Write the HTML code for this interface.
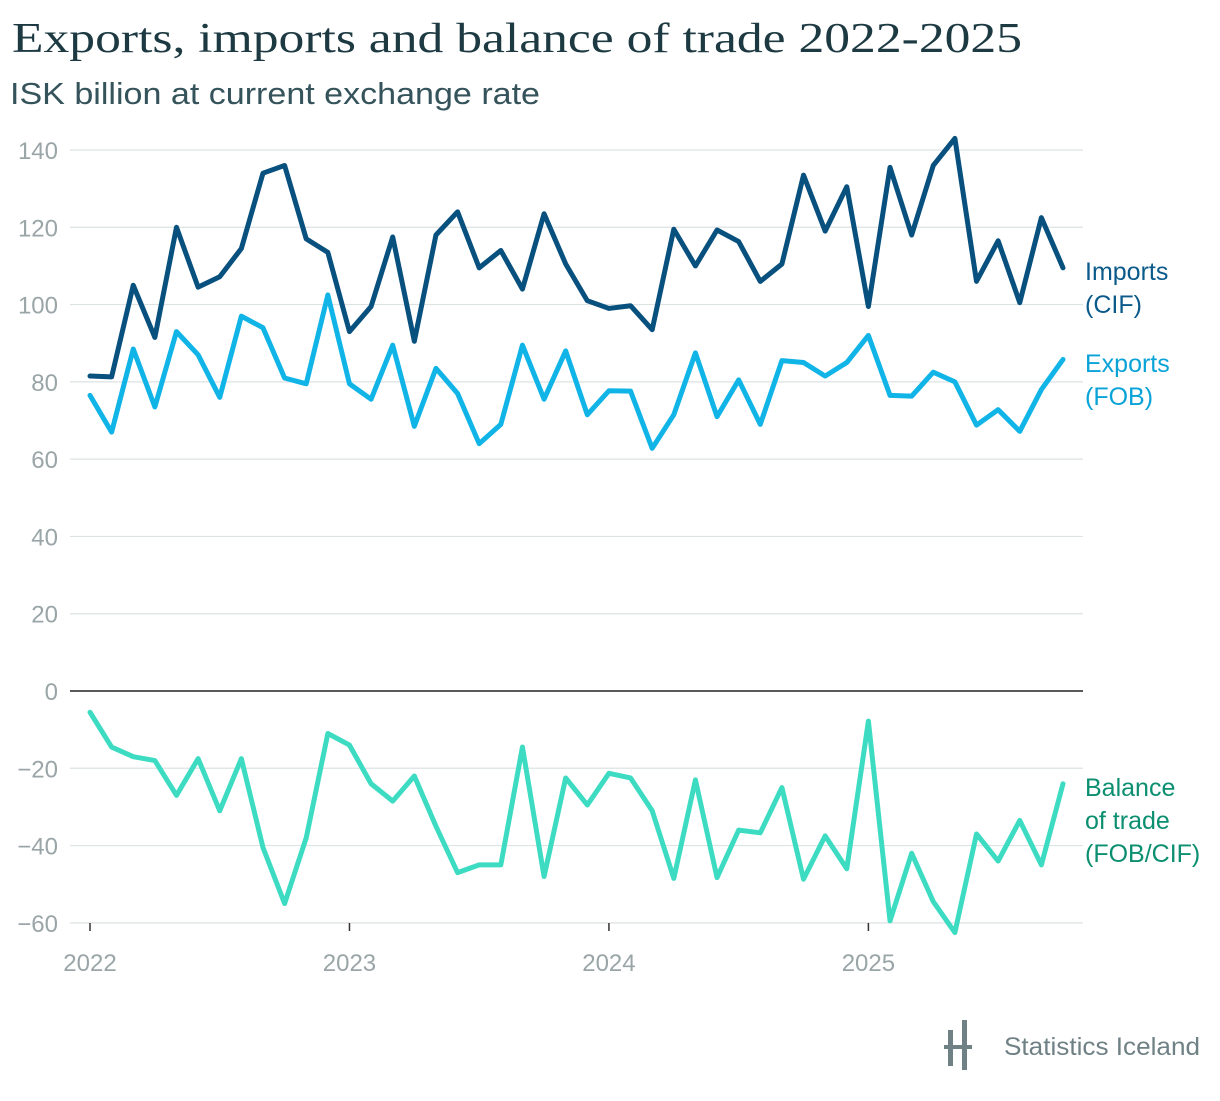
<!DOCTYPE html>
<html><head><meta charset="utf-8"><style>
body{margin:0;background:#fff;width:1220px;height:1096px;overflow:hidden;font-family:"Liberation Sans",sans-serif}
</style></head><body>
<svg width="1220" height="1096" xmlns="http://www.w3.org/2000/svg">
<text x="12" y="52" font-family="Liberation Serif,serif" font-size="42" fill="#1d3a42" textLength="1010" lengthAdjust="spacingAndGlyphs">Exports, imports and balance of trade 2022-2025</text>
<text x="10" y="104" font-size="31" fill="#35535b" textLength="530" lengthAdjust="spacingAndGlyphs">ISK billion at current exchange rate</text>
<g id="grid"></g><g id="lines"></g>
<text x="1085" y="280" font-size="25" fill="#0b5a8a">Imports</text>
<text x="1085" y="313" font-size="25" fill="#0b5a8a">(CIF)</text>
<text x="1085" y="372" font-size="25" fill="#0aa3d8">Exports</text>
<text x="1085" y="405" font-size="25" fill="#0aa3d8">(FOB)</text>
<text x="1085" y="796" font-size="25" fill="#0b8f70">Balance</text>
<text x="1085" y="829" font-size="25" fill="#0b8f70">of trade</text>
<text x="1085" y="862" font-size="25" fill="#0b8f70">(FOB/CIF)</text>
<g>
<rect x="948" y="1030" width="5" height="36" fill="#6f8185"/><rect x="962" y="1020" width="5" height="50" fill="#6f8185"/><rect x="944" y="1045" width="28" height="4" fill="#6f8185"/>
<text x="1004" y="1055" font-size="25" fill="#6f8185" textLength="196" lengthAdjust="spacingAndGlyphs">Statistics Iceland</text></g>
</svg>
<script>
const yTicks=[140,120,100,80,60,40,20,0,-20,-40,-60];
const yearLabels=["2022","2023","2024","2025"];
const imports=[81.5,81.3,105,91.5,120,104.5,107.2,114.5,134,136,117,113.5,93,99.5,117.5,90.5,118,124,109.5,114,104,123.5,110.5,101,99,99.7,93.5,119.5,110,119.3,116.3,106,110.5,133.5,119,130.5,99.5,135.5,118,136,143,106,116.5,100.5,122.5,109.5];
const exportsV=[76.5,67,88.5,73.5,93,87,76,97,94,81,79.5,102.5,79.5,75.5,89.5,68.5,83.5,77,64,69,89.5,75.5,88,71.5,77.7,77.6,62.8,71.5,87.5,71,80.5,69,85.5,85,81.5,85,92,76.5,76.3,82.5,80,68.8,72.8,67.2,78,85.8];
const balance=[-5.5,-14.5,-17,-18,-27,-17.5,-31,-17.5,-40.5,-55,-38,-11,-14,-24,-28.5,-22,-35,-47,-45,-45,-14.5,-48,-22.5,-29.5,-21.3,-22.5,-31,-48.5,-23,-48.3,-36,-36.7,-25,-48.7,-37.5,-46,-7.8,-59.5,-42,-54.5,-62.5,-37,-44,-33.5,-45,-24];
const NS="http://www.w3.org/2000/svg";
const X=i=>90+i*(1063-90)/45;
const Y=v=>691-v*(691-150)/140;
const grid=document.getElementById('grid'),lines=document.getElementById('lines');
function mk(tag,attrs,parent){const e=document.createElementNS(NS,tag);for(const k in attrs)e.setAttribute(k,attrs[k]);parent.appendChild(e);return e;}
yTicks.forEach(t=>{
 const l=mk('line',{x1:70,x2:1083,y1:Y(t),y2:Y(t),stroke:t===0?'#222':'#dde2e3','stroke-width':t===0?1.5:1.2},grid);
 
 
 const tx=mk('text',{x:58,y:Y(t)+9,'text-anchor':'end','font-size':24,fill:'#9aa5a8','font-family':'Liberation Sans,sans-serif'},grid);
 tx.textContent=t<0?'\u2212'+(-t):String(t);
 
 
});
yearLabels.forEach((y,k)=>{
 const x=X(k*12);
 const tk=mk('line',{x1:x,x2:x,y1:923,y2:931,stroke:'#333','stroke-width':1.5},grid);
 
 
 const tx=mk('text',{x:x,y:971,'text-anchor':'middle','font-size':24,fill:'#9aa5a8'},grid);
 tx.textContent=y;
 
 
});
[[imports,'#08507e','imports-line'],[exportsV,'#10b4e6','exports-line'],[balance,'#3ddcc2','balance-line']].forEach(([d,c,n])=>{
 const p=mk('polyline',{points:d.map((v,i)=>X(i)+','+Y(v)).join(' '),fill:'none',stroke:c,'stroke-width':5,'stroke-linejoin':'round','stroke-linecap':'round'},lines);
 
 
});
</script>
</body></html>
